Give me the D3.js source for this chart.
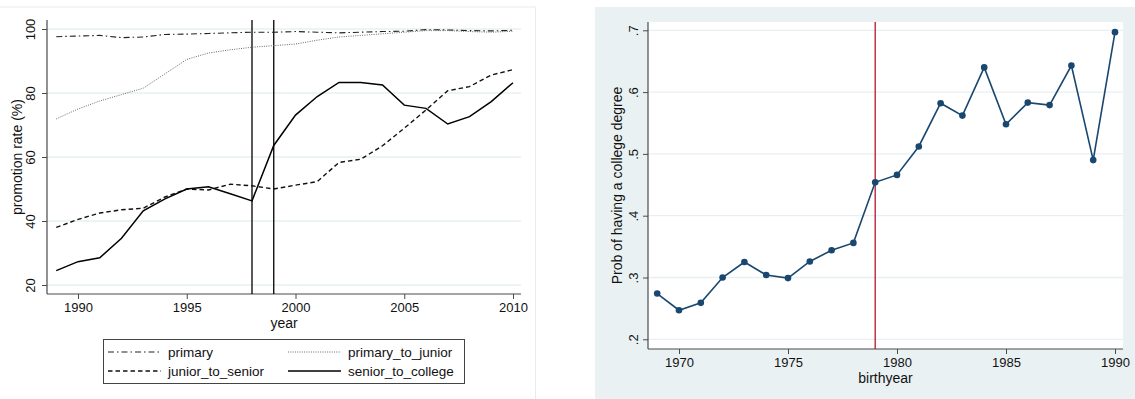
<!DOCTYPE html>
<html>
<head>
<meta charset="utf-8">
<script src="https://cdn.jsdelivr.net/npm/d3@7"></script>
<style>
  html, body { margin: 0; padding: 0; background: #fff; }
  svg text { font-family: "Liberation Sans", Arial, sans-serif; fill: #111; }
</style>
</head>
<body>
<svg id="chart" width="1135" height="399"></svg>
<script>
// ---- Promotion rates by year (left panel) ----
const years = d3.range(1989, 2011);
const primary = [97.6, 97.8, 98.0, 97.3, 97.5, 98.3, 98.4, 98.6, 98.8, 99.0, 99.0,
                 99.2, 99.0, 98.8, 99.0, 99.2, 99.3, 99.8, 99.7, 99.5, 99.4, 99.6];
const primaryToJunior = [71.9, 75.0, 77.5, 79.5, 81.5, 86.0, 90.5, 92.5, 93.5, 94.3, 94.8,
                         95.3, 96.5, 97.5, 98.0, 98.5, 99.0, 99.5, 99.5, 99.2, 99.0, 99.3];
const juniorToSenior = [38.0, 40.5, 42.5, 43.5, 44.0, 47.5, 50.0, 49.7, 51.5, 51.0, 50.0,
                        51.2, 52.3, 58.3, 59.3, 63.5, 69.0, 74.7, 80.7, 82.0, 85.6, 87.3];
const seniorToCollege = [24.5, 27.3, 28.5, 34.6, 43.2, 46.9, 50.0, 50.7, 48.5, 46.3, 63.6,
                         73.1, 78.9, 83.3, 83.3, 82.5, 76.2, 75.2, 70.3, 72.6, 77.3, 83.2];
const reformYears = [1998, 1999];
const leftXTicks = [1990, 1995, 2000, 2005, 2010];
const leftYTicks = [20, 40, 60, 80, 100];
const legendLabels = ["primary", "primary_to_junior", "junior_to_senior", "senior_to_college"];

// ---- College degree probability by birth year (right panel) ----
const birthYears = d3.range(1969, 1991);
const probCollege = [0.274, 0.247, 0.259, 0.300, 0.325, 0.304, 0.299, 0.326, 0.344, 0.356, 0.454,
                     0.466, 0.512, 0.582, 0.562, 0.640, 0.548, 0.583, 0.579, 0.643, 0.490, 0.697];
const cutoffYear = 1979;
const rightXTicks = [1970, 1975, 1980, 1985, 1990];
const rightYTicks = [0.2, 0.3, 0.4, 0.5, 0.6, 0.7];

const svg = d3.select("#chart");
const gridColor = "#e8eff1";
const axisColor = "#4a4a4a";
const tickFont = 13;
const titleFont = 14;
const legendFont = 13.5;

// ================= Left panel =================
svg.append("rect").attr("x", -1).attr("y", 7).attr("width", 536.5).attr("height", 400)
  .attr("fill", "#fff").attr("stroke", "#e3ecee").attr("stroke-width", 1);

const L = { left: 47, right: 521, top: 20, bottom: 294 };
const xL = d3.scaleLinear().domain([1990, 2010]).range([78, 513]);
const yL = d3.scaleLinear().domain([20, 100]).range([285, 29]);

const gL = svg.append("g");

// gridlines
gL.selectAll("line.grid").data(leftYTicks).join("line")
  .attr("x1", L.left).attr("x2", L.right)
  .attr("y1", d => yL(d)).attr("y2", d => yL(d))
  .attr("stroke", gridColor).attr("stroke-width", 1.3);

// axes
const axLeftY = gL.append("g").attr("transform", `translate(${L.left},0)`)
  .call(d3.axisLeft(yL).tickValues(leftYTicks).tickSize(5).tickSizeOuter(0).tickFormat(d3.format("d")));
axLeftY.select(".domain").remove();
gL.append("line").attr("x1", L.left).attr("x2", L.left).attr("y1", L.top).attr("y2", L.bottom)
  .attr("stroke", axisColor).attr("stroke-width", 1.2);
axLeftY.selectAll(".tick line").attr("stroke", axisColor);
axLeftY.selectAll(".tick text")
  .attr("font-size", tickFont).attr("x", 0).attr("dy", 0)
  .attr("transform", "translate(-12,0) rotate(-90)")
  .attr("text-anchor", "middle");

const axLeftX = gL.append("g").attr("transform", `translate(0,${L.bottom})`)
  .call(d3.axisBottom(xL).tickValues(leftXTicks).tickSize(5).tickSizeOuter(0).tickFormat(d3.format("d")));
axLeftX.select(".domain").remove();
gL.append("line").attr("x1", L.left).attr("x2", L.right).attr("y1", L.bottom).attr("y2", L.bottom)
  .attr("stroke", axisColor).attr("stroke-width", 1.2);
axLeftX.selectAll(".tick line").attr("stroke", axisColor);
axLeftX.selectAll(".tick text").attr("font-size", tickFont).attr("y", 9).attr("dy", "0.71em");

// axis titles
gL.append("text").attr("x", (L.left + L.right) / 2).attr("y", 328)
  .attr("text-anchor", "middle").attr("font-size", titleFont).text("year");
gL.append("text").attr("transform", `translate(22,${(L.top + L.bottom) / 2}) rotate(-90)`)
  .attr("text-anchor", "middle").attr("font-size", titleFont).text("promotion rate (%)");

// reform reference lines
gL.selectAll("line.ref").data(reformYears).join("line")
  .attr("x1", d => xL(d)).attr("x2", d => xL(d))
  .attr("y1", L.top).attr("y2", L.bottom)
  .attr("stroke", "#000").attr("stroke-width", 1.3);

// series
const seriesLeft = [
  { name: "primary", values: primary, color: "#222", width: 1.1, dash: "6,3,1.5,3" },
  { name: "primary_to_junior", values: primaryToJunior, color: "#6a6a6a", width: 1, dash: "1,1.3" },
  { name: "junior_to_senior", values: juniorToSenior, color: "#111", width: 1.4, dash: "4.5,3" },
  { name: "senior_to_college", values: seniorToCollege, color: "#000", width: 1.5, dash: null }
];
const lineL = d3.line().x((d, i) => xL(years[i])).y(d => yL(d));
seriesLeft.forEach(s => {
  gL.append("path").datum(s.values).attr("d", lineL)
    .attr("fill", "none").attr("stroke", s.color).attr("stroke-width", s.width)
    .attr("stroke-dasharray", s.dash);
});

// legend
const legend = gL.append("g");
legend.append("rect").attr("x", 103.5).attr("y", 339.5).attr("width", 361).attr("height", 44)
  .attr("fill", "#fff").attr("stroke", "#444").attr("stroke-width", 1);
const legendPos = [
  { x: 108, y: 352 }, { x: 288, y: 352 }, { x: 108, y: 371 }, { x: 288, y: 371 }
];
legendLabels.forEach((name, i) => {
  const s = seriesLeft.find(d => d.name === name);
  const p = legendPos[i];
  legend.append("line").attr("x1", p.x).attr("x2", p.x + 53).attr("y1", p.y).attr("y2", p.y)
    .attr("stroke", s.color).attr("stroke-width", s.width).attr("stroke-dasharray", s.dash);
  legend.append("text").attr("x", p.x + 60).attr("y", p.y).attr("dy", "0.35em")
    .attr("font-size", legendFont).text(name);
});

// ================= Right panel =================
svg.append("rect").attr("x", 595).attr("y", 7).attr("width", 541).attr("height", 392)
  .attr("fill", "#eaf1f3");

const R = { left: 648, right: 1123, top: 22, bottom: 349 };
svg.append("rect").attr("x", R.left).attr("y", R.top)
  .attr("width", R.right - R.left).attr("height", R.bottom - R.top).attr("fill", "#fff");

const xR = d3.scaleLinear().domain([1970, 1990]).range([679, 1115]);
const yR = d3.scaleLinear().domain([0.2, 0.7]).range([339.3, 30.3]);
const gR = svg.append("g");

gR.selectAll("line.grid").data(rightYTicks).join("line")
  .attr("x1", R.left).attr("x2", R.right)
  .attr("y1", d => yR(d)).attr("y2", d => yR(d))
  .attr("stroke", gridColor).attr("stroke-width", 1.3);

const fmtProb = d => d3.format(".1f")(d).replace(/^0/, "");
const axRightY = gR.append("g").attr("transform", `translate(${R.left},0)`)
  .call(d3.axisLeft(yR).tickValues(rightYTicks).tickSize(5).tickSizeOuter(0).tickFormat(fmtProb));
axRightY.select(".domain").remove();
gR.append("line").attr("x1", R.left).attr("x2", R.left).attr("y1", R.top).attr("y2", R.bottom)
  .attr("stroke", axisColor).attr("stroke-width", 1.2);
axRightY.selectAll(".tick line").attr("stroke", axisColor);
axRightY.selectAll(".tick text")
  .attr("font-size", tickFont).attr("x", 0).attr("dy", 0)
  .attr("transform", "translate(-10,0) rotate(-90)")
  .attr("text-anchor", "middle");

const axRightX = gR.append("g").attr("transform", `translate(0,${R.bottom})`)
  .call(d3.axisBottom(xR).tickValues(rightXTicks).tickSize(5).tickSizeOuter(0).tickFormat(d3.format("d")));
axRightX.select(".domain").remove();
gR.append("line").attr("x1", R.left).attr("x2", R.right).attr("y1", R.bottom).attr("y2", R.bottom)
  .attr("stroke", axisColor).attr("stroke-width", 1.2);
axRightX.selectAll(".tick line").attr("stroke", axisColor);
axRightX.selectAll(".tick text").attr("font-size", tickFont).attr("y", 9).attr("dy", "0.71em");

gR.append("text").attr("x", (R.left + R.right) / 2).attr("y", 383)
  .attr("text-anchor", "middle").attr("font-size", titleFont).text("birthyear");
gR.append("text").attr("transform", `translate(622,${(R.top + R.bottom) / 2}) rotate(-90)`)
  .attr("text-anchor", "middle").attr("font-size", titleFont).text("Prob of having a college degree");

// cutoff line
gR.append("line").attr("x1", xR(cutoffYear)).attr("x2", xR(cutoffYear))
  .attr("y1", R.top).attr("y2", R.bottom)
  .attr("stroke", "#b2182b").attr("stroke-width", 1.3);

const lineR = d3.line().x((d, i) => xR(birthYears[i])).y(d => yR(d));
gR.append("path").datum(probCollege).attr("d", lineR)
  .attr("fill", "none").attr("stroke", "#1a476f").attr("stroke-width", 1.6);
gR.selectAll("circle.pt").data(probCollege).join("circle")
  .attr("cx", (d, i) => xR(birthYears[i])).attr("cy", d => yR(d)).attr("r", 3.3)
  .attr("fill", "#1a476f");
</script>
</body>
</html>
